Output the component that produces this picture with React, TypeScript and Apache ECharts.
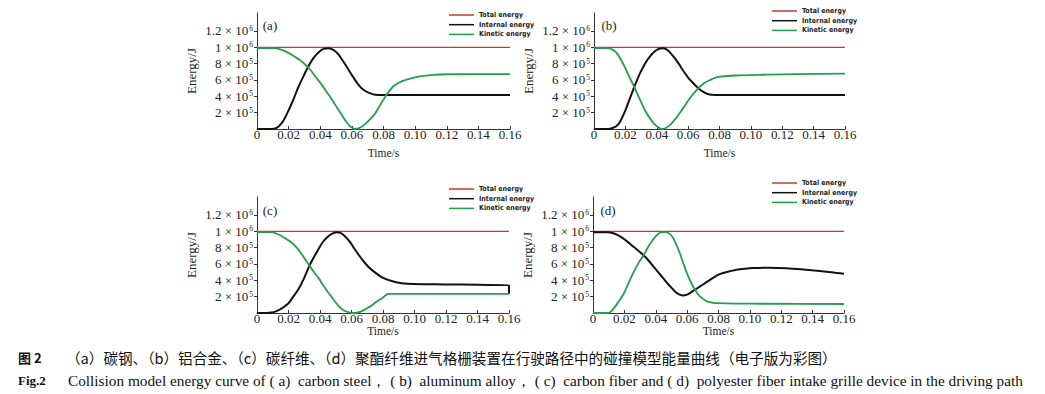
import React, { useEffect, useRef } from 'react';
import * as echarts from 'echarts';

// Energy values are stored in units of 10^6 J; time in s.
const seriesNames = ['Total energy', 'Internal energy', 'Kinetic energy'];
const panelLabels = ['(a)', '(b)', '(c)', '(d)'];
const xTickValues = [0, 0.02, 0.04, 0.06, 0.08, 0.1, 0.12, 0.14, 0.16];
const yTickValues = [0.2, 0.4, 0.6, 0.8, 1.0, 1.2];
const yTickMantissa = ['2', '4', '6', '8', '1', '1.2'];
const yTickExponent = ['5', '5', '5', '5', '6', '6'];

const totalA = [[0, 1], [0.16, 1]];
const internalA = [[0, 0], [0.009, 0], [0.012, 0.01], [0.0147, 0.05], [0.0175, 0.13], [0.02, 0.23], [0.0232, 0.37], [0.0263, 0.52], [0.0295, 0.65], [0.0326, 0.77], [0.0358, 0.87], [0.039, 0.94], [0.042, 0.98], [0.0453, 0.99], [0.0485, 0.965], [0.0516, 0.91], [0.0548, 0.82], [0.0579, 0.725], [0.061, 0.63], [0.0642, 0.54], [0.0673, 0.48], [0.0705, 0.445], [0.0747, 0.418], [0.08, 0.415], [0.16, 0.415]];
const kineticA = [[0, 0.99], [0.0115, 0.99], [0.0147, 0.975], [0.0179, 0.95], [0.021, 0.92], [0.0242, 0.88], [0.0274, 0.84], [0.0305, 0.79], [0.0326, 0.75], [0.0347, 0.7], [0.0378, 0.62], [0.041, 0.54], [0.0442, 0.45], [0.0474, 0.36], [0.0505, 0.265], [0.0537, 0.17], [0.0564, 0.09], [0.059, 0.03], [0.0621, 0], [0.065, 0.015], [0.0684, 0.06], [0.0716, 0.12], [0.0747, 0.19], [0.0775, 0.28], [0.08, 0.36], [0.083, 0.45], [0.0861, 0.52], [0.09, 0.57], [0.0946, 0.605], [0.099, 0.628], [0.103, 0.645], [0.1114, 0.662], [0.12, 0.67], [0.16, 0.672]];

const totalB = [[0, 1], [0.16, 1]];
const internalB = [[0, 0], [0.009, 0], [0.0115, 0.01], [0.014, 0.03], [0.0166, 0.09], [0.0198, 0.22], [0.023, 0.38], [0.026, 0.53], [0.0293, 0.68], [0.0325, 0.8], [0.0357, 0.89], [0.039, 0.955], [0.042, 0.985], [0.0442, 0.99], [0.047, 0.965], [0.0506, 0.89], [0.054, 0.8], [0.057, 0.71], [0.06, 0.63], [0.0633, 0.56], [0.0665, 0.5], [0.0697, 0.455], [0.0725, 0.428], [0.075, 0.418], [0.08, 0.415], [0.16, 0.415]];
const kineticB = [[0, 0.99], [0.009, 0.99], [0.0115, 0.975], [0.014, 0.94], [0.0166, 0.87], [0.0198, 0.75], [0.023, 0.62], [0.026, 0.5], [0.0293, 0.36], [0.0325, 0.23], [0.0357, 0.13], [0.039, 0.05], [0.042, 0.01], [0.0435, 0], [0.0455, 0.01], [0.0485, 0.05], [0.0517, 0.12], [0.0548, 0.2], [0.058, 0.29], [0.0612, 0.38], [0.0644, 0.455], [0.0676, 0.52], [0.0708, 0.57], [0.074, 0.6], [0.077, 0.625], [0.0803, 0.64], [0.09, 0.655], [0.11, 0.665], [0.13, 0.672], [0.16, 0.678]];

const totalC = [[0, 1], [0.16, 1]];
const internalC = [[0, 0], [0.006, 0], [0.009, 0.005], [0.012, 0.02], [0.016, 0.06], [0.02, 0.12], [0.023, 0.2], [0.0263, 0.29], [0.03, 0.43], [0.0333, 0.58], [0.036, 0.68], [0.039, 0.78], [0.0415, 0.86], [0.0442, 0.92], [0.0475, 0.97], [0.0505, 0.99], [0.053, 0.98], [0.0558, 0.94], [0.059, 0.87], [0.0621, 0.78], [0.0652, 0.695], [0.0684, 0.615], [0.0715, 0.55], [0.0747, 0.5], [0.08, 0.43], [0.0866, 0.385], [0.092, 0.365], [0.0992, 0.355], [0.12, 0.35], [0.14, 0.345], [0.16, 0.34], [0.16, 0.235]];
const kineticC = [[0, 0.99], [0.009, 0.99], [0.0125, 0.97], [0.0158, 0.94], [0.019, 0.9], [0.0221, 0.86], [0.0252, 0.8], [0.0284, 0.72], [0.0308, 0.65], [0.0333, 0.58], [0.036, 0.505], [0.039, 0.43], [0.042, 0.34], [0.0453, 0.25], [0.0485, 0.165], [0.0516, 0.09], [0.0537, 0.05], [0.0558, 0.025], [0.0585, 0.007], [0.061, 0], [0.0635, 0.005], [0.0663, 0.02], [0.0695, 0.055], [0.0726, 0.09], [0.076, 0.14], [0.08, 0.19], [0.0834, 0.235], [0.16, 0.235]];

const totalD = [[0, 1], [0.16, 1]];
const internalD = [[0, 0.99], [0.0095, 0.99], [0.0125, 0.98], [0.0152, 0.96], [0.0183, 0.925], [0.0215, 0.88], [0.0246, 0.83], [0.0278, 0.78], [0.0302, 0.74], [0.0326, 0.7], [0.0355, 0.64], [0.0383, 0.575], [0.0415, 0.5], [0.0446, 0.43], [0.0478, 0.355], [0.051, 0.29], [0.053, 0.25], [0.0552, 0.225], [0.0575, 0.215], [0.06, 0.225], [0.0615, 0.24], [0.0646, 0.28], [0.0678, 0.32], [0.071, 0.36], [0.0741, 0.4], [0.0794, 0.465], [0.0829, 0.49], [0.087, 0.51], [0.0914, 0.53], [0.097, 0.543], [0.102, 0.55], [0.1126, 0.555], [0.1232, 0.548], [0.134, 0.533], [0.1445, 0.515], [0.152, 0.5], [0.16, 0.48]];
const kineticD = [[0, 0], [0.009, 0], [0.011, 0.01], [0.013, 0.05], [0.016, 0.13], [0.0194, 0.23], [0.0225, 0.36], [0.0257, 0.49], [0.029, 0.61], [0.0326, 0.72], [0.0355, 0.82], [0.0383, 0.9], [0.041, 0.96], [0.0436, 0.99], [0.0467, 0.99], [0.049, 0.965], [0.051, 0.92], [0.053, 0.84], [0.0552, 0.74], [0.0573, 0.625], [0.0594, 0.51], [0.0615, 0.415], [0.0636, 0.33], [0.0657, 0.265], [0.0678, 0.21], [0.0704, 0.17], [0.073, 0.14], [0.0765, 0.125], [0.0794, 0.12], [0.09, 0.115], [0.11, 0.113], [0.16, 0.11]];

const panelData = [
  [totalA, internalA, kineticA],
  [totalB, internalB, kineticB],
  [totalC, internalC, kineticC],
  [totalD, internalD, kineticD],
];

const NB = '\u00a0';
const captionCnLead = '图 2';
const captionCn = '（a）碳钢、（b）铝合金、（c）碳纤维、（d）聚酯纤维进气格栅装置在行驶路径中的碰撞模型能量曲线（电子版为彩图）';
const captionEnLead = 'Fig.2';
const captionEn = `Collision model energy curve of (${NB}a)${NB}${NB}carbon steel，${NB}(${NB}b)${NB}${NB}aluminum alloy，${NB}(${NB}c)${NB}${NB}carbon fiber and (${NB}d)${NB}${NB}polyester fiber intake grille device in the driving path`;

const SERIF = '"Liberation Serif", "DejaVu Serif", serif';
const NARROW = '"Liberation Sans Narrow", "DejaVu Sans Condensed", "Liberation Sans", sans-serif';
const CJK = '"Noto Sans CJK SC", sans-serif';
const lineColors = ['#c23a32', '#111111', '#22a04c'];
const lineWidths = [1.2, 2, 1.8];

const grids = [
  { left: 257, top: 13, width: 253, height: 116 },
  { left: 594, top: 13, width: 251, height: 116 },
  { left: 257, top: 197, width: 252, height: 116 },
  { left: 593, top: 197, width: 251, height: 116 },
];
const legendPos = [
  { left: 449, top: 11 },
  { left: 772, top: 7 },
  { left: 449, top: 185 },
  { left: 772, top: 179 },
];
const labelPos = [
  [270, 25], [609, 25], [270, 210], [608, 210],
];
const timeNameGap = [19, 19, 13, 13];

export default function App() {
  const ref = useRef<HTMLDivElement>(null);
  useEffect(() => {
    if (!ref.current) return;
    const chart = echarts.init(ref.current, undefined, { renderer: 'svg' });
    const axisColor = '#333';
    const option: any = {
      animation: false,
      backgroundColor: '#ffffff',
      grid: grids.map((g) => ({ ...g, containLabel: false })),
      xAxis: grids.map((_, i) => ({
        type: 'value',
        gridIndex: i,
        min: 0,
        max: 0.16,
        interval: 0.02,
        name: 'Time/s',
        nameLocation: 'middle',
        nameGap: timeNameGap[i],
        nameMoveOverlap: false,
        nameTextStyle: { fontFamily: SERIF, fontSize: 11.5, color: '#222', lineHeight: 10 },
        axisLine: { show: true, lineStyle: { color: axisColor, width: 1 } },
        axisTick: { show: true, inside: true, length: 3, lineStyle: { color: axisColor } },
        axisLabel: {
          margin: 0,
          fontFamily: SERIF,
          fontSize: 13,
          lineHeight: 10,
          color: '#222',
          showMinLabel: true,
          showMaxLabel: true,
          formatter: (v: number) => {
            const idx = xTickValues.findIndex((t) => Math.abs(t - v) < 1e-9);
            if (idx < 0) return '';
            return idx === 0 ? '0' : xTickValues[idx].toFixed(2);
          },
        },
        splitLine: { show: false },
      })),
      yAxis: grids.map((_, i) => ({
        type: 'value',
        gridIndex: i,
        min: 0,
        max: 1.42,
        interval: 0.2,
        name: 'Energy/J',
        nameLocation: 'middle',
        nameGap: 59,
        nameRotate: 90,
        nameMoveOverlap: false,
        nameTextStyle: { fontFamily: SERIF, fontSize: 13, color: '#222' },
        axisLine: { show: true, lineStyle: { color: axisColor, width: 1 } },
        axisTick: { show: true, inside: false, length: 3, lineStyle: { color: axisColor }, customValues: yTickValues },
        axisLabel: {
          margin: 4,
          customValues: yTickValues,
          formatter: (v: number) => {
            const idx = yTickValues.findIndex((t) => Math.abs(t - v) < 1e-6);
            if (idx < 0) return '';
            return `{m|${yTickMantissa[idx]} × 10}{e|${yTickExponent[idx]}}`;
          },
          rich: {
            m: { fontFamily: SERIF, fontSize: 13, color: '#222' },
            e: { fontFamily: SERIF, fontSize: 7.5, color: '#222', verticalAlign: 'top', padding: [0, 0, 0, 1] },
          },
        },
        splitLine: { show: false },
      })),
      legend: legendPos.map((p) => ({
        ...p,
        orient: 'vertical',
        padding: 0,
        itemWidth: 25,
        itemHeight: 1.5,
        itemGap: 1.7,
        icon: 'rect',
        selectedMode: false,
        textStyle: { fontFamily: NARROW, fontSize: 7, fontWeight: 'bold', color: '#222', lineHeight: 8 },
        data: seriesNames,
      })),
      series: panelData.flatMap((set, i) =>
        set.map((d, k) => ({
          type: 'line',
          name: seriesNames[k],
          xAxisIndex: i,
          yAxisIndex: i,
          data: d,
          smooth: 0.3,
          showSymbol: false,
          symbol: 'none',
          color: lineColors[k],
          itemStyle: { color: lineColors[k] },
          lineStyle: { color: lineColors[k], width: lineWidths[k] },
          z: 2 + k,
        }))
      ),
      graphic: [
        ...panelLabels.map((t, i) => ({
          type: 'text',
          x: labelPos[i][0],
          y: labelPos[i][1],
          style: { text: t, fontFamily: SERIF, fontSize: 13, fill: '#222', align: 'center', verticalAlign: 'middle' },
        })),
        { type: 'text', x: 18, y: 357, style: { text: captionCnLead, fontFamily: CJK, fontSize: 13, fontWeight: 'bold', fill: '#111', verticalAlign: 'middle' } },
        { type: 'text', x: 66, y: 357, style: { text: captionCn, fontFamily: CJK, fontSize: 14.6, fill: '#111', verticalAlign: 'middle' } },
        { type: 'text', x: 18, y: 380, style: { text: captionEnLead, fontFamily: SERIF, fontSize: 13, fontWeight: 'bold', fill: '#111', verticalAlign: 'middle' } },
        { type: 'text', x: 68, y: 380, style: { text: captionEn, fontFamily: SERIF, fontSize: 15.3, fill: '#111', verticalAlign: 'middle' } },
      ],
    };
    chart.setOption(option);
    return () => chart.dispose();
  }, []);
  return <div ref={ref} style={{ position: 'absolute', left: 0, top: 0, width: 1045, height: 394, background: '#fff' }} />;
}
